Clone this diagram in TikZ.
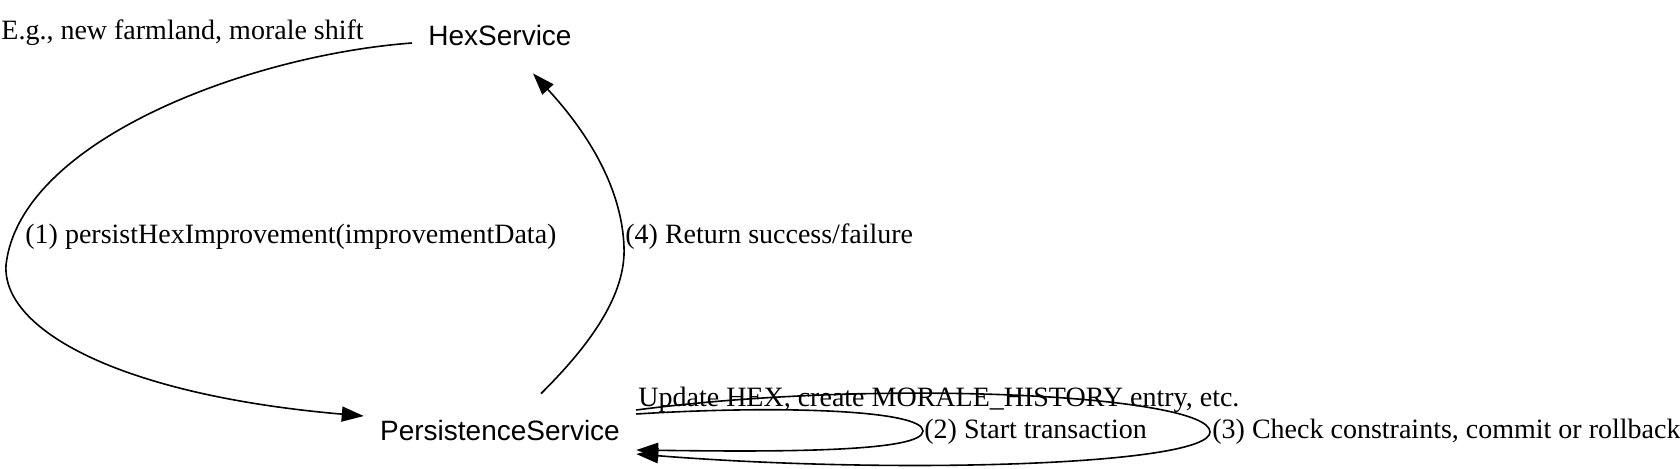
\documentclass[tikz,border=0pt]{standalone}
\usepackage{fontspec}
\setmainfont{Liberation Serif}
\newfontfamily\arialfont{Liberation Sans}
\usetikzlibrary{arrows.meta}
\tikzset{
  svc/.style={font=\arialfont\fontsize{14}{17}\selectfont, inner xsep=8pt, minimum height=36pt},
  lbl/.style={font=\fontsize{14}{17}\selectfont, inner sep=0pt, anchor=base west},
  flow/.style={line width=0.8pt, -{Triangle[length=11pt,width=7.5pt]}}
}
\begin{document}
\begin{tikzpicture}[x=0.5pt,y=-0.5pt]
    \useasboundingbox (0,0) rectangle (1680,468);
    \node[svc] (hex) at (500,35) {HexService};
    \node[svc] (persist) at (500,430) {PersistenceService};
    \node[lbl] (note) at (1,39) {E.g., new farmland, morale shift};
    \node[lbl] (call) at (25,243) {(1) persistHexImprovement(improvementData)};
    \node[lbl] (reply) at (625,243) {(4) Return success/failure};
    \node[lbl] (update) at (638,406) {Update HEX, create MORALE\_HISTORY entry, etc.};
    \node[lbl] (begin) at (924,438) {(2) Start transaction};
    \node[lbl] (check) at (1212,438) {(3) Check constraints, commit or rollback};
    \draw[flow] ([yshift=-4pt]hex.west) .. controls (250,55) and (20,140) .. (6,265)
        .. controls (2,330) and (120,395) .. ([yshift=7pt]persist.west);
    \draw[flow] ([xshift=20.5pt]persist.north) .. controls (590,345) and (626,295) .. (624,247)
        .. controls (622,190) and (590,135) .. ([xshift=16.5pt,yshift=-1pt]hex.south);
    \draw[flow] ([yshift=8pt]persist.east) .. controls (780,405) and (923,410) .. (923,431)
        .. controls (923,452) and (780,452) .. ([yshift=-10pt]persist.east);
    \draw[flow] ([yshift=10pt]persist.east) .. controls (880,378) and (1210,395) .. (1210,432)
        .. controls (1210,465) and (900,475) .. ([yshift=-12pt]persist.east);
\end{tikzpicture}
\end{document}
